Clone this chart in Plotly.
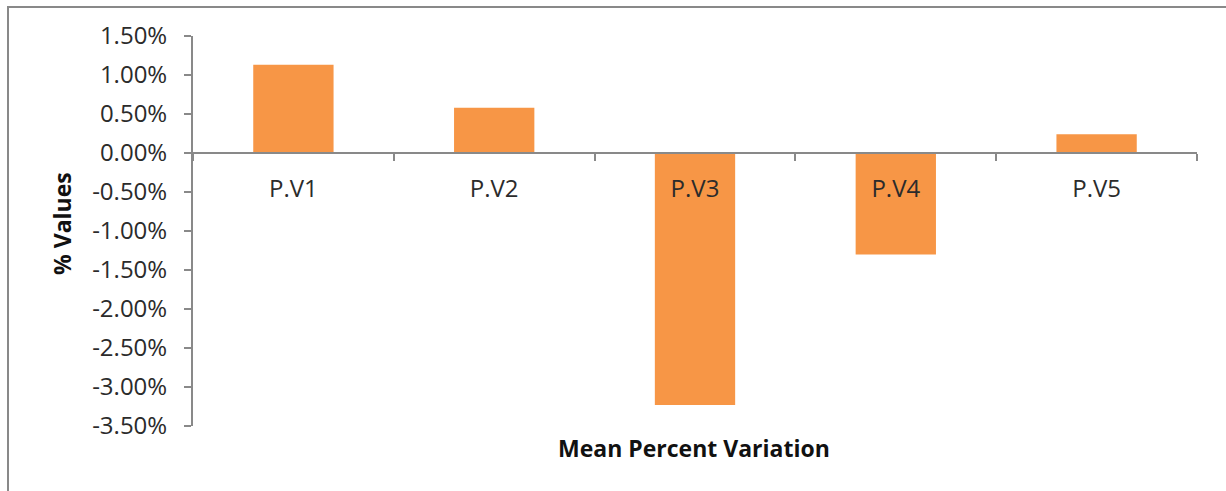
import plotly.graph_objects as go

categories = ["P.V1", "P.V2", "P.V3", "P.V4", "P.V5"]
values = [0.0113, 0.0058, -0.0323, -0.0130, 0.0024]
y_ticks = [0.015, 0.01, 0.005, 0.0, -0.005, -0.01, -0.015, -0.02, -0.025, -0.03, -0.035]
y_tick_labels = ["1.50%", "1.00%", "0.50%", "0.00%", "-0.50%", "-1.00%", "-1.50%",
                 "-2.00%", "-2.50%", "-3.00%", "-3.50%"]
x_title = "Mean Percent Variation"
y_title = "% Values"

W, H = 1226, 491
L, R, T, B = 193, 29, 36, 65
pw, ph = W - L - R, H - T - B
ymin, ymax = -0.035, 0.015
zero_frac = (0 - ymin) / (ymax - ymin)

FONT = "Open Sans"
AX = "#898989"
TXT = "#2b2b2b"
TICK_SIZE = 24
TITLE_SIZE = 23

fig = go.Figure(go.Bar(x=categories, y=values, marker=dict(color="#F79646", line=dict(width=0)),
                       hoverinfo="x+y"))

fig.update_layout(
    width=W, height=H,
    margin=dict(l=L, r=R, t=T, b=B),
    paper_bgcolor="white", plot_bgcolor="white",
    bargap=0.6, showlegend=False,
    font=dict(family=FONT, color=TXT, size=TICK_SIZE),
    xaxis=dict(
        anchor="free", position=zero_frac,
        showline=True, linecolor=AX, linewidth=2,
        ticks="outside", ticklen=7, tickwidth=2, tickcolor=AX,
        tickson="boundaries", showgrid=False, zeroline=False,
        tickfont=dict(family=FONT, size=TICK_SIZE, color=TXT),
        ticklabelstandoff=14,
    ),
    yaxis=dict(
        range=[ymin, ymax], tickvals=y_ticks, ticktext=y_tick_labels,
        showline=True, linecolor=AX, linewidth=2,
        ticks="outside", ticklen=7, tickwidth=2, tickcolor=AX,
        showgrid=False, zeroline=False,
        tickfont=dict(family=FONT, size=TICK_SIZE, color=TXT),
        ticklabelstandoff=12,
    ),
)

# y-axis title
fig.add_annotation(text=f"<b>{y_title}</b>", xref="paper", yref="paper",
                   x=(62 - L) / pw, y=(426 - 224) / ph, showarrow=False, textangle=-90,
                   font=dict(family=FONT, size=TITLE_SIZE, color="#111"),
                   xanchor="center", yanchor="middle")

# x-axis title
fig.add_annotation(text=f"<b>{x_title}</b>", xref="paper", yref="paper",
                   x=(694 - L) / pw, y=(426 - 448) / ph, showarrow=False,
                   font=dict(family=FONT, size=TITLE_SIZE, color="#111"),
                   xanchor="center", yanchor="middle")

# outer chart border (extends past right and bottom edges)
fig.add_shape(type="rect", xref="paper", yref="paper",
              x0=(8 - L) / pw, x1=(W + 10 - L) / pw,
              y0=(T + ph - (H + 10)) / ph, y1=(T + ph - 7) / ph,
              line=dict(color=AX, width=2), fillcolor="rgba(0,0,0,0)", layer="below")

fig.write_html("out.html")
